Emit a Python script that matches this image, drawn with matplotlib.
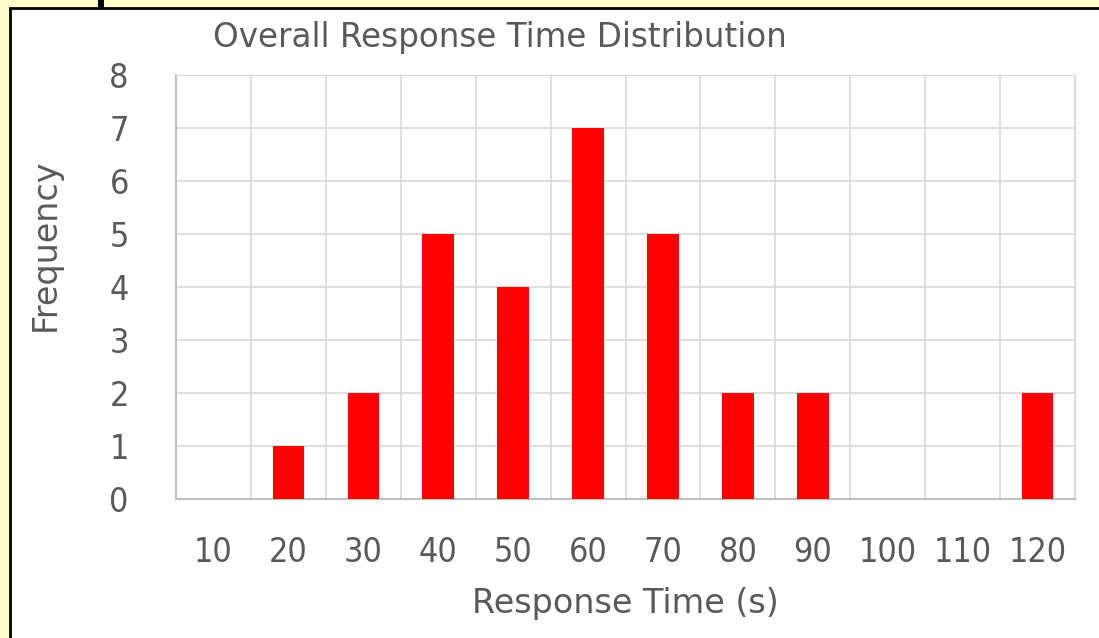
import numpy as np
import matplotlib
matplotlib.use('Agg')
import matplotlib.pyplot as plt
from matplotlib.patches import Rectangle

# 分组与频数
bins = ['10', '20', '30', '40', '50', '60', '70', '80', '90', '100', '110', '120']
freq = [0, 1, 2, 5, 4, 7, 5, 2, 2, 0, 0, 2]

TXT = '#595959'
GRID = '#D9D9D9'
plt.rcParams['font.family'] = ['DejaVu Sans']

W, H = 1099, 638
fig = plt.figure(figsize=(W / 100, H / 100), dpi=100)
fig.patch.set_facecolor('#FFFFCC')

# 白色底板 + 黑框
panel = Rectangle((10 / W, -0.01), 1.1, 1 - 8 / H + 0.01, transform=fig.transFigure,
                  facecolor='white', edgecolor='black', linewidth=2, zorder=-5)
fig.patches.append(panel)
fig.patches.append(Rectangle((98 / W, 1 - 8 / H), 6 / W, 8 / H, transform=fig.transFigure,
                             facecolor='black', edgecolor='none', zorder=-5))

ax = fig.add_axes([176 / W, 139 / H, 899 / W, 424 / H])
ax.patch.set_alpha(0)
x = np.arange(len(bins))
ax.bar(x, freq, width=0.42, color='#FF0000', zorder=3)

ax.set_xlim(-0.5, len(bins) - 0.5)
ax.set_ylim(0, 8)
ax.set_xticks(x)
ax.set_xticklabels(bins)
ax.set_yticks(range(0, 9))
ax.set_xticks(np.arange(-0.5, len(bins), 1), minor=True)
ax.tick_params(axis='both', which='both', length=0, labelsize=24.5, colors=TXT)
ax.tick_params(axis='x', pad=27)
ax.tick_params(axis='y', pad=34)
for lab in ax.get_xticklabels() + ax.get_yticklabels():
    lab.set_fontstretch('condensed')
ax.grid(axis='y', which='major', color=GRID, linewidth=1.2, zorder=0)
ax.grid(axis='x', which='minor', color=GRID, linewidth=1.2, zorder=0)
ax.grid(axis='x', which='major', visible=False)
for s in ['top', 'right']:
    ax.spines[s].set_color(GRID)
for s in ['left', 'bottom']:
    ax.spines[s].set_color('#BFBFBF')
    ax.spines[s].set_linewidth(1.5)
ax.set_axisbelow(True)

fig.text(500 / W, 1 - 37 / H, 'Overall Response Time Distribution', ha='center', va='center',
         fontsize=23.5, color=TXT)
fig.text(45 / W, 1 - 245 / H, 'Frequency', rotation=90, ha='center', va='center',
         fontsize=24, color=TXT)
fig.text(625 / W, 1 - 603 / H, 'Response Time (s)', ha='center', va='center',
         fontsize=24, color=TXT)

fig.savefig('out.png', dpi=100, facecolor=fig.get_facecolor())
